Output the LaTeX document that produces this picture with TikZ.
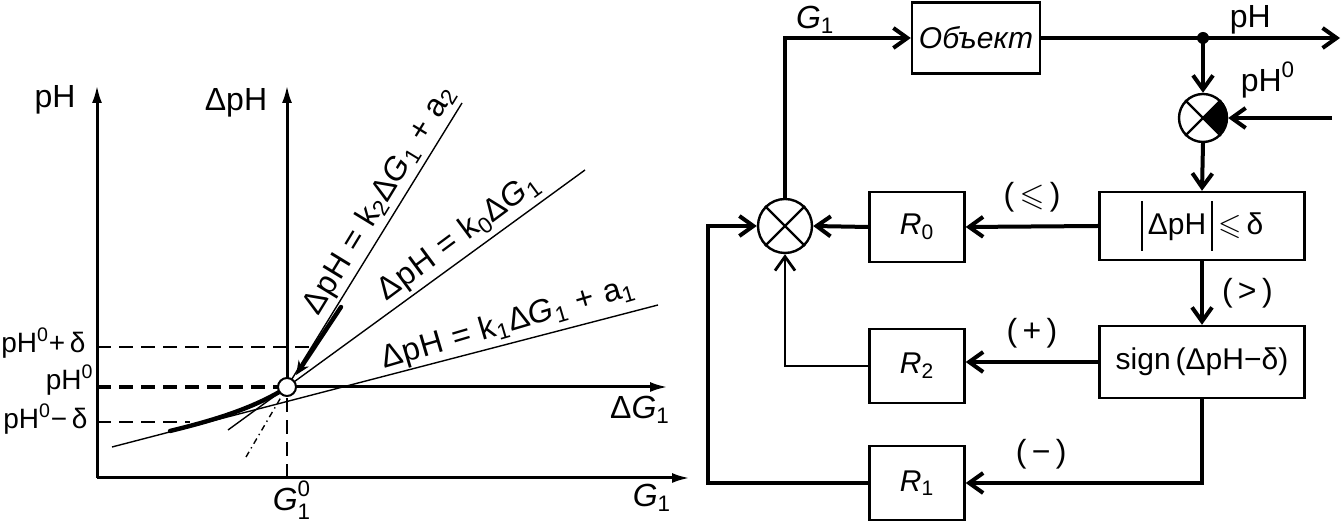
\documentclass[tikz,border=0pt]{standalone}
\usepackage{fontspec}
\setmainfont{Liberation Sans}
\newfontfamily\spacedfont[LetterSpace=3]{Liberation Sans}
\usepackage{amsmath,amssymb}
\usetikzlibrary{arrows.meta,positioning,calc}
\tikzset{
  lbl/.style={inner sep=1pt, font=\fontsize{16pt}{18pt}\selectfont},
  lvlbl/.style={inner sep=0pt, font=\fontsize{14pt}{16pt}\selectfont},
  eqlbl/.style={inner sep=0pt, font=\fontsize{16pt}{18pt}\spacedfont},
  axis/.style={line width=1.5pt, -{Latex[length=9pt,width=5pt]}},
  thinln/.style={line width=0.7pt},
  lev/.style={dash pattern=on 7pt off 4pt},
  curve/.style={line width=2.2pt, line cap=round},
  blk/.style={draw=black, line width=1.2pt, minimum width=#1, inner sep=0pt,
              font=\fontsize{15pt}{17pt}\selectfont},
  blk/.default=47.5pt,
  sumj/.style={circle, draw=black, line width=1.2pt, minimum size=#1, inner sep=0pt},
  sumj/.default=27pt,
  sig/.style={line width=2pt, -{Straight Barb[length=7pt,width=10pt]}},
}
\begin{document}
\begin{tikzpicture}[x=0.5pt,y=-0.5pt]
  \useasboundingbox (0,0) rectangle (1344,522);
  % --- characteristic
  \coordinate (O) at (287,387);
  \coordinate (B) at (97,478);
  \draw[axis] (B) -- (97,85);
  \draw[axis] (B) -- (690,478);
  \draw[axis] (O) -- (287,85);
  \draw[axis] (O) -- (668,387);
  \draw[lev, line width=1pt] (287,478) -- (287,396);
  \foreach \yy/\xe/\lw/\xl/\yl/\txt [count=\i] in
      {347/313/0.9pt/86/343/{$\text{pH}^{\text{0}}$+\,δ},
       387/279/1.6pt/94/380/{$\text{pH}^{\text{0}}$},
       422/190/0.9pt/88/419/{$\text{pH}^{\text{0}}$−\,δ}} {
    \draw[lev, line width=\lw] (97,\yy) -- (\xe,\yy);
    \node[lvlbl, anchor=east] (lev\i) at (\xl,\yl) {\txt};
  }
  \draw[thinln] (112,447) -- (658,305);
  \draw[thinln] (228,430) -- (585,170);
  \draw[thinln] (O) -- (462,103);
  \draw[thinln, dash dot] (246,457) -- (O);
  \draw[curve] (170,431) .. controls (215,420) and (250,409) .. (281,391);
  \draw[curve, -{Stealth[length=7pt,width=6pt]}] (341,307) -- (296,375);
  \node[circle, draw, fill=white, line width=1pt, minimum size=9pt, inner sep=0pt] (o) at (O) {};
  \node[lbl] (ypH) at (55,100) {pH};
  \node[lbl] (ydpH) at (236,103) {ΔpH};
  \node[lbl] (xdG) at (640,410) {Δ\textit{G}\textsubscript{1}};
  \node[lbl] (xG) at (652,498) {\textit{G}\textsubscript{1}};
  \node[lbl] (g0) at (292,500) {$\textit{G}_{\text{1}}^{\text{0}}$};
  \node[eqlbl, rotate=58.6] (lk2) at (380,200) {ΔpH = k\textsubscript{2}Δ\textit{G}\textsubscript{1} + a\textsubscript{2}};
  \node[eqlbl, rotate=36.5] (lk0) at (459,238) {ΔpH = k\textsubscript{0}Δ\textit{G}\textsubscript{1}};
  \node[eqlbl, rotate=16.4] (lk1) at (508,324) {ΔpH = k\textsubscript{1}Δ\textit{G}\textsubscript{1} + a\textsubscript{1}};
  % --- block diagram
  \node[blk=64pt, minimum height=35.5pt] (obj) at (976,38) {\itshape Объект};
  \node[sumj=24pt] (cmp) at (1203,118) {};
  \node[blk=102.5pt, minimum height=34pt] (dev) at (1202,226)
    {\rule[-8pt]{1pt}{25pt}\,ΔpH\,\rule[-8pt]{1pt}{25pt}\,$\leqslant$\,δ};
  \node[blk=102.5pt, minimum height=36pt] (sgn) at (1202,362) {sign\,(ΔpH−δ)};
  \node[blk, minimum height=35pt] (r0) at (917,227) {\textit{R}\textsubscript{0}};
  \node[blk, minimum height=37pt] (r2) at (917,366) {\textit{R}\textsubscript{2}};
  \node[blk, minimum height=37pt] (r1) at (917,483) {\textit{R}\textsubscript{1}};
  \node[sumj] (sum) at (785,226) {};
  \foreach \c in {sum,cmp} {
    \draw[line width=1.2pt] (\c.north west) -- (\c.south east)
                             (\c.north east) -- (\c.south west);
  }
  \fill (cmp.center) -- (cmp.north east) arc[start angle=45, end angle=-45, radius=12pt] -- cycle;
  \coordinate (tap) at (cmp.north |- obj.east);
  \coordinate (out) at (1340,38);
  \coordinate (ref) at (1332,118);
  \coordinate (lft) at (708,483);
  \draw[sig] (sum.north) |- (obj.west) node[lbl, pos=0.62, above=0pt] (g1) {\textit{G}\textsubscript{1}};
  \draw[sig] (obj.east) -- (out) node[lbl, pos=0.7, above=0pt] (yout) {pH};
  \fill (tap) circle (3pt);
  \draw[sig] (tap) -- (cmp.north);
  \draw[sig] (ref) -- (cmp.east);
  \node[lbl] (yref) at (1268,80) {$\text{pH}^{\text{0}}$};
  \draw[sig] (cmp.south) -- (dev.north);
  \draw[sig] (dev.west) -- (r0.east) node[lbl, midway, above=5pt] (le) {(\,$\leqslant$\,)};
  \draw[sig] (r0.west) -- (sum.east);
  \draw[sig] (dev.south) -- (sgn.north) node[lbl, midway, right=8pt] (gt) {(\,>\,)};
  \draw[sig] (sgn.west) -- (sgn.west -| r2.east) node[lbl, midway, above=5pt] (pl) {(\,+\,)};
  \draw[sig, line width=1.4pt] (r2.west) -| (sum.south);
  \draw[sig] (sgn.south) |- (r1.east) node[lbl, pos=0.84, above=5pt] (mi) {(\,−\,)};
  \draw[sig] (r1.west) -- (lft) |- (sum.west);
\end{tikzpicture}
\end{document}
